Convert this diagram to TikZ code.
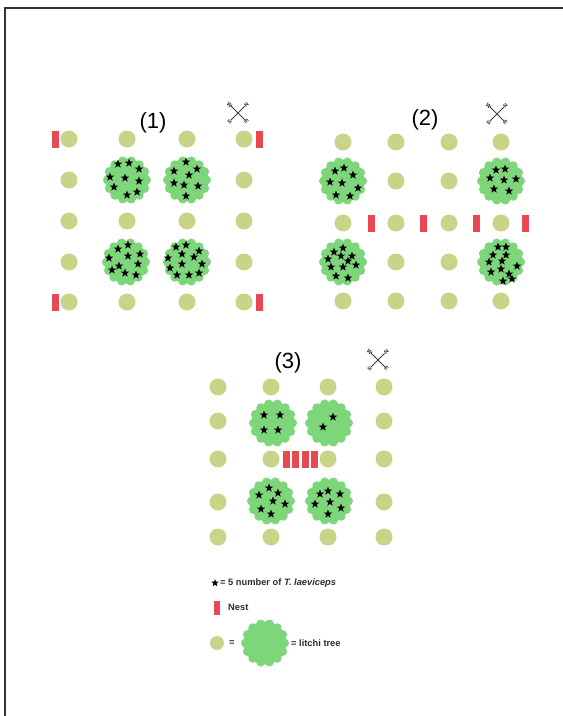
\documentclass[tikz,border=0pt]{standalone}
\usepackage{fontspec}
\setmainfont{Liberation Sans}
\usetikzlibrary{shapes.geometric}
\definecolor{olivec}{RGB}{200,212,135}
\definecolor{leaf}{RGB}{125,214,122}
\definecolor{nestred}{RGB}{232,72,82}
\definecolor{ink}{RGB}{45,45,45}
\tikzset{
  smalltree/.style={circle, fill=olivec, minimum size=17pt, inner sep=0pt},
  nestbox/.style={rectangle, fill=nestred, minimum width=7pt, minimum height=17pt, inner sep=0pt},
  beetle/.style={star, star points=5, star point ratio=2.4, fill=black, minimum size=9pt, inner sep=0pt},
  paneltitle/.style={font=\fontsize{22}{26}\selectfont, inner sep=0pt},
  legendtext/.style={font=\fontsize{9.3}{11}\selectfont\bfseries, text=ink, inner sep=0pt, anchor=west},
  compassletter/.style={font=\fontsize{5.5}{6}\selectfont\bfseries, text=gray!30!black, inner sep=0pt},
  litchi/.pic={
    \fill[leaf] (0,0) circle (21.5pt);
    \foreach \a in {0,25.714,...,359} \fill[leaf] (\a:19.5) circle (4.5pt);
  },
  compass/.pic={
    \draw[gray!50!black, line width=0.9pt] (-7,-7) -- (7,7) (-7,7) -- (7,-7);
    \node[compassletter, rotate=-45] at (-8.5,-8.5) {W};
    \node[compassletter, rotate=45] at (8.5,-8.5) {N};
    \node[compassletter, rotate=45] at (-8.5,8.5) {S};
    \node[compassletter, rotate=-45] at (8.5,8.5) {E};
  }
}
\begin{document}
\begin{tikzpicture}[x=1pt,y=-1pt]
\useasboundingbox (0,0) rectangle (563,716);
\fill[white] (0,0) rectangle (563,716);
\draw[line width=2pt, black!80] (5,716) -- (5,8) -- (563,8);

% ---------- Panel 1 ----------
\node[paneltitle] (t1) at (153,123) {(1)};
\pic at (238,113) {compass};
\foreach \x [count=\i] in {69,127,187,244}
  \foreach \y [count=\j] in {139,180,221,262,302} {
    \pgfmathtruncatemacro{\skip}{(\i==2 || \i==3) && (\j==2 || \j==4) ? 1 : 0}
    \ifnum\skip=0 \node[smalltree] (a\i\j) at (\x,\y) {}; \fi
  }
\node[nestbox] (an1) at (55,139) {};
\node[nestbox] (an2) at (259,139) {};
\node[nestbox] (an3) at (55,302) {};
\node[nestbox] (an4) at (259,302) {};
\begin{scope}[shift={(127,180)}]
  \pic {litchi};
  \foreach \p [count=\k] in {(-9,-16),(2,-17),(12,-11),(-17,-3),(-2,-2),(12,1),(-13,7),(0,15),(10,12)}
    \node[beetle] (a1s\k) at \p {};
\end{scope}
\begin{scope}[shift={(187,180)}]
  \pic {litchi};
  \foreach \p [count=\k] in {(-1,-18),(-13,-9),(10,-11),(2,-5),(-13,3),(-3,5),(11,6),(-1,16)}
    \node[beetle] (a2s\k) at \p {};
\end{scope}
\begin{scope}[shift={(126,262)}]
  \pic {litchi};
  \foreach \p [count=\k] in {(-8,-13),(2,-17),(14,-8),(-17,-4),(2,-6),(-7,4),(12,2),(-14,8),(-1,11),(10,13)}
    \node[beetle] (a3s\k) at \p {};
\end{scope}
\begin{scope}[shift={(187,262)}]
  \pic {litchi};
  \foreach \p [count=\k] in {(-11,-15),(-1,-17),(12,-11),(-19,-4),(-5,-8),(7,-5),(-17,6),(-5,2),(15,2),(-10,13),(2,13),(12,11)}
    \node[beetle] (a4s\k) at \p {};
\end{scope}

% ---------- Panel 2 ----------
\node[paneltitle] (t2) at (425,120) {(2)};
\pic at (497,114) {compass};
\foreach \x [count=\i] in {343,396,449,501}
  \foreach \y [count=\j] in {142,181,223,262,301} {
    \pgfmathtruncatemacro{\skip}{(\i==1 || \i==4) && (\j==2 || \j==4) ? 1 : 0}
    \ifnum\skip=0 \node[smalltree] (b\i\j) at (\x,\y) {}; \fi
  }
\foreach \x [count=\k] in {371,423,476,525}
  \node[nestbox] (bn\k) at (\x,223) {};
\begin{scope}[shift={(343,181)}]
  \pic {litchi};
  \foreach \p [count=\k] in {(-8,-10),(1,-13),(10,-6),(-13,1),(-1,2),(15,7),(-7,14),(7,15)}
    \node[beetle] (b1s\k) at \p {};
\end{scope}
\begin{scope}[shift={(501,181)}]
  \pic {litchi};
  \foreach \p [count=\k] in {(-5,-11),(4,-12),(-11,-3),(3,-1),(15,-2),(-7,8),(8,10)}
    \node[beetle] (b2s\k) at \p {};
\end{scope}
\begin{scope}[shift={(343,262)}]
  \pic {litchi};
  \foreach \p [count=\k] in {(-9,-10),(0,-14),(9,-6),(-15,-3),(-2,-6),(5,-1),(-12,5),(0,5),(13,3),(-7,14),(5,16)}
    \node[beetle] (b3s\k) at \p {};
\end{scope}
\begin{scope}[shift={(501,262)}]
  \pic {litchi};
  \foreach \p [count=\k] in {(-3,-15),(5,-15),(-8,-7),(5,-7),(-12,0),(1,-1),(16,4),(-10,10),(0,7),(8,12),(2,19),(11,17)}
    \node[beetle] (b4s\k) at \p {};
\end{scope}

% ---------- Panel 3 ----------
\node[paneltitle] (t3) at (288,363) {(3)};
\pic at (378,360) {compass};
\foreach \x [count=\i] in {218,271,328,384}
  \foreach \y [count=\j] in {387,421,459,502,537} {
    \pgfmathtruncatemacro{\skip}{(\i==2 || \i==3) && (\j==2 || \j==4) ? 1 : 0}
    \ifnum\skip=0 \node[smalltree] (c\i\j) at (\x,\y) {}; \fi
  }
\foreach \x [count=\k] in {286,295.5,305,314.5}
  \node[nestbox] (cn\k) at (\x,459) {};
\begin{scope}[shift={(273,423)}]
  \pic {litchi};
  \foreach \p [count=\k] in {(-9,-8),(7,-8),(-9,7),(5,7)}
    \node[beetle] (c1s\k) at \p {};
\end{scope}
\begin{scope}[shift={(329,423)}]
  \pic {litchi};
  \foreach \p [count=\k] in {(4,-6),(-6,4)}
    \node[beetle] (c2s\k) at \p {};
\end{scope}
\begin{scope}[shift={(271,501)}]
  \pic {litchi};
  \foreach \p [count=\k] in {(-2,-13),(-12,-6),(7,-8),(2,0),(14,3),(-10,8),(0,13)}
    \node[beetle] (c3s\k) at \p {};
\end{scope}
\begin{scope}[shift={(329,501)}]
  \pic {litchi};
  \foreach \p [count=\k] in {(-9,-7),(-1,-10),(11,-7),(-14,3),(1,1),(12,7),(-1,13)}
    \node[beetle] (c4s\k) at \p {};
\end{scope}

% ---------- Legend ----------
\node[beetle, minimum size=8pt] (lstar) at (215,583) {};
\node[legendtext] (ltext1) at (220,583) {= 5 number of \textit{T. laeviceps}};
\node[nestbox, minimum width=6pt, minimum height=14pt] (lnest) at (217,608) {};
\node[legendtext] (ltext2) at (228,607) {Nest};
\node[smalltree, minimum size=14pt] (lsmall) at (217,643) {};
\node[legendtext] (leq) at (229,643) {=};
\pic at (265,643) {litchi};
\node[legendtext] (ltext3) at (291,643) {= litchi tree};
\end{tikzpicture}
\end{document}
